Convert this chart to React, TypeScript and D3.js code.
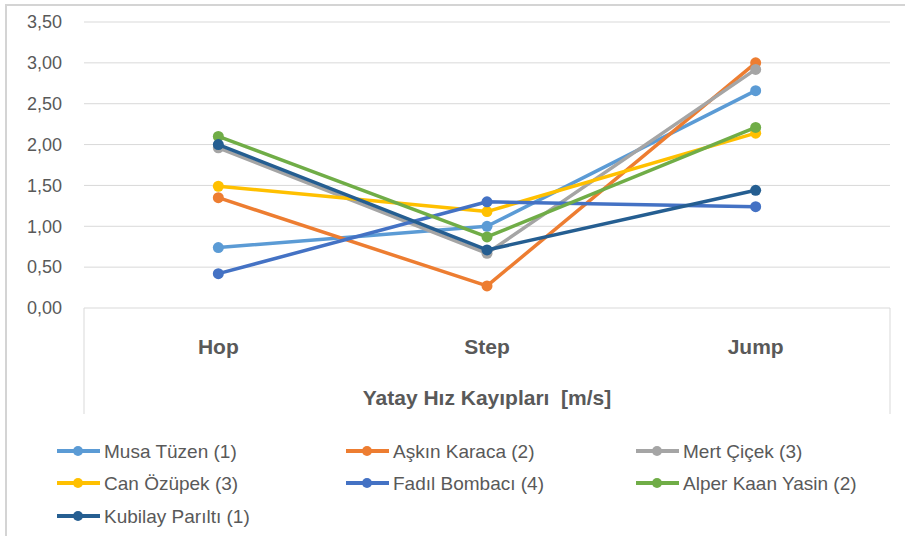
import { useEffect, useRef } from "react";
import * as d3 from "d3";

const categories = ["Hop", "Step", "Jump"];
const names = [
  "Musa Tüzen (1)",
  "Aşkın Karaca (2)",
  "Mert Çiçek (3)",
  "Can Özüpek (3)",
  "Fadıl Bombacı (4)",
  "Alper Kaan Yasin (2)",
  "Kubilay Parıltı (1)",
];
const colors = ["#5B9BD5", "#ED7D31", "#A5A5A5", "#FFC000", "#4472C4", "#70AD47", "#255E91"];
const musa = [0.74, 1.0, 2.66];
const askin = [1.35, 0.27, 3.0];
const mert = [1.96, 0.67, 2.92];
const can = [1.49, 1.18, 2.14];
const fadil = [0.42, 1.3, 1.24];
const alper = [2.1, 0.87, 2.21];
const kubilay = [2.0, 0.71, 1.44];
const yTicks = [0, 0.5, 1, 1.5, 2, 2.5, 3, 3.5];

const seriesValues = [musa, askin, mert, can, fadil, alper, kubilay];

const App = () => {
  const svgRef = useRef<SVGSVGElement>(null);

  useEffect(() => {
    const width = 905;
    const height = 536;
    const font = "'Liberation Sans', Arial, sans-serif";
    const textColor = "#595959";
    const gridColor = "#D9D9D9";

    const svg = d3.select(svgRef.current);
    svg.selectAll("*").remove();

    // outer chart border (only top and left are visible)
    svg.append("path")
      .attr("d", `M6,${height} V5 H${width}`)
      .attr("fill", "none")
      .attr("stroke", "#D4D4D4")
      .attr("stroke-width", 2);

    const plotLeft = 84, plotRight = 890, plotTop = 22, plotBottom = 308;

    const x = d3.scaleBand().domain(categories).range([plotLeft, plotRight]);
    const y = d3.scaleLinear().domain([0, 3.5]).range([plotBottom, plotTop]);

    // gridlines
    svg.append("g")
      .selectAll("line")
      .data(yTicks)
      .join("line")
      .attr("x1", plotLeft)
      .attr("x2", plotRight)
      .attr("y1", d => y(d))
      .attr("y2", d => y(d))
      .attr("stroke", gridColor)
      .attr("stroke-width", 1);

    // category box below axis
    svg.append("path")
      .attr("d", `M${plotLeft},${plotBottom} V414 M${plotRight},${plotBottom} V414`)
      .attr("stroke", gridColor)
      .attr("fill", "none");

    // y tick labels
    const fmt = (v: number) => v.toFixed(2).replace(".", ",");
    svg.append("g")
      .selectAll("text")
      .data(yTicks)
      .join("text")
      .attr("x", 62)
      .attr("y", d => y(d))
      .attr("dy", "0.35em")
      .attr("text-anchor", "end")
      .attr("font-family", font)
      .attr("font-size", 18)
      .attr("fill", textColor)
      .text(fmt);

    // category labels
    svg.append("g")
      .selectAll("text")
      .data(categories)
      .join("text")
      .attr("x", d => (x(d) as number) + x.bandwidth() / 2)
      .attr("y", 347)
      .attr("dy", "0.35em")
      .attr("text-anchor", "middle")
      .attr("font-family", font)
      .attr("font-weight", "bold")
      .attr("font-size", 21)
      .attr("fill", textColor)
      .text(d => d);

    // axis title
    svg.append("text")
      .attr("x", (plotLeft + plotRight) / 2)
      .attr("y", 398)
      .attr("dy", "0.35em")
      .attr("text-anchor", "middle")
      .attr("font-family", font)
      .attr("font-weight", "bold")
      .attr("font-size", 21)
      .attr("fill", textColor)
      .style("white-space", "pre")
      .text("Yatay Hız Kayıpları  [m/s]");

    const cx = (i: number) => (x(categories[i]) as number) + x.bandwidth() / 2;
    const line = d3.line<number>().x((_, i) => cx(i)).y(d => y(d));

    // series
    seriesValues.forEach((vals, s) => {
      const g = svg.append("g");
      g.append("path")
        .datum(vals)
        .attr("fill", "none")
        .attr("stroke", colors[s])
        .attr("stroke-width", 3.5)
        .attr("stroke-linejoin", "round")
        .attr("d", line);
      g.selectAll("circle")
        .data(vals)
        .join("circle")
        .attr("cx", (_, i) => cx(i))
        .attr("cy", d => y(d))
        .attr("r", 5.5)
        .attr("fill", colors[s]);
    });

    // legend
    const colX = [57, 346, 636];
    const rowY = [451, 483, 516];
    const legend = svg.append("g");
    names.forEach((name, i) => {
      const lx = colX[i % 3];
      const ly = rowY[Math.floor(i / 3)];
      legend.append("line")
        .attr("x1", lx).attr("x2", lx + 43)
        .attr("y1", ly).attr("y2", ly)
        .attr("stroke", colors[i])
        .attr("stroke-width", 4);
      legend.append("circle")
        .attr("cx", lx + 21).attr("cy", ly)
        .attr("r", 5)
        .attr("fill", colors[i]);
      legend.append("text")
        .attr("x", lx + 47)
        .attr("y", ly)
        .attr("dy", "0.35em")
        .attr("font-family", font)
        .attr("font-size", 19)
        .attr("fill", textColor)
        .text(name);
    });
  }, []);

  return (
    <svg ref={svgRef} width={905} height={536} style={{ position: "absolute", left: 0, top: 0 }}></svg>
  );
};

export default App;
